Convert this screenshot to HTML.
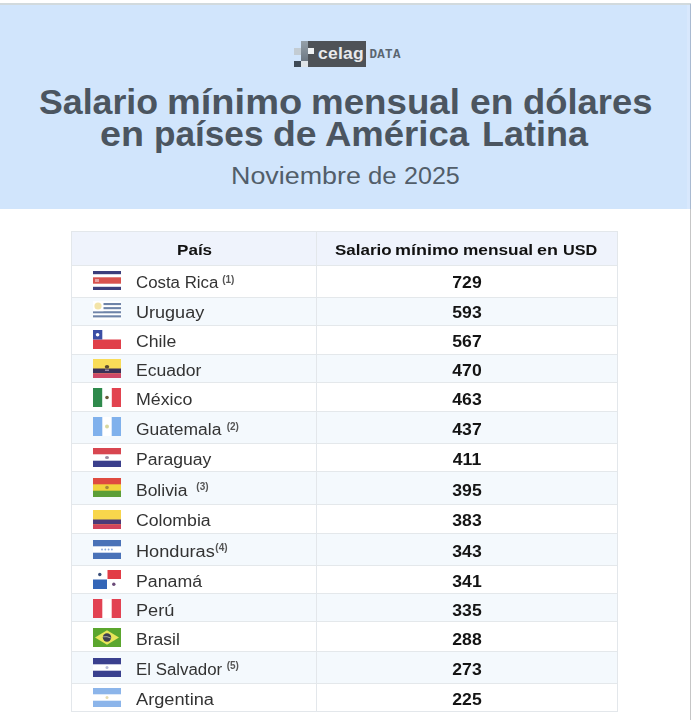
<!DOCTYPE html>
<html><head><meta charset="utf-8">
<style>
*{margin:0;padding:0;box-sizing:border-box}
html,body{width:691px;height:720px;overflow:hidden;background:#fff;font-family:"Liberation Sans",sans-serif;position:relative}
#topline{position:absolute;left:0;top:3px;width:691px;height:2px;background:#d2dadd}
#hdr{position:absolute;left:0;top:5px;width:690px;height:204px;background:#d1e5fc}
#hdr2{position:absolute;left:687px;top:5px;width:3px;height:204px;background:#d8e8fd}
#rline{position:absolute;left:690px;top:4px;width:1px;height:716px;background:#c6c6c6}
#rline2{position:absolute;left:690px;top:4px;width:1px;height:205px;background:#a9bad1}
.t1{position:absolute;white-space:nowrap;font-weight:bold;color:#4b5560;font-size:35px;line-height:1;transform-origin:0 0}
.sub{position:absolute;white-space:nowrap;color:#525e6a;font-size:23px;line-height:1;transform-origin:0 0;transform:scaleX(1.14)}
.hrow{position:absolute;left:71px;width:547px;background:#eff3fc;border-top:1px solid #e3e7eb}
.htxt{position:absolute;white-space:nowrap;font-weight:bold;font-size:15px;color:#111;line-height:1;transform-origin:0 0}
.row{position:absolute;left:71px;width:547px;border-top:1px solid #e4e8eb;background:#fff}
.row.tint{background:#f4f9fd}
.bline{position:absolute;left:71px;width:547px;height:1px;background:#e3e7eb}
.vline{position:absolute;width:1px;background:#e3e7eb}
.name{position:absolute;left:136px;white-space:nowrap;font-size:16px;color:#333;line-height:1;transform-origin:0 0;transform:scaleX(1.12)}
.sup{position:absolute;font-size:10px;line-height:1;color:#555;font-weight:bold;white-space:nowrap}
.num{position:absolute;left:316px;width:302px;text-align:center;font-weight:bold;font-size:16px;color:#141414;line-height:1;transform:scaleX(1.1)}
.flag{position:absolute;left:93px}
.logo{position:absolute}
#wrap{position:absolute;left:0;top:0;width:691px;height:720px;overflow:hidden;filter:blur(0.3px)}
</style></head><body><div id="wrap">
<div id="topline"></div>
<div id="hdr"></div>
<div id="hdr2"></div><div id="rline"></div><div id="rline2"></div>
<div class="logo" style="left:308px;top:41px;width:58px;height:25.5px;background:#4e5257"></div>
<div class="logo" style="left:301px;top:41px;width:7px;height:19.5px;background:linear-gradient(#95a0a9,#6d7883)"></div>
<div class="logo" style="left:294px;top:47.5px;width:7px;height:7px;background:#c3ccd3"></div>
<div class="logo" style="left:308px;top:47.5px;width:6px;height:6.5px;background:#eef1f3"></div>
<div class="logo" style="left:294px;top:60.5px;width:7px;height:6px;background:#3e4a56"></div>
<div class="logo" style="left:301px;top:60.5px;width:7px;height:6px;background:#dfe4e8"></div>
<span class="logo" id="celag" style="left:318px;top:44.6px;font-size:16.5px;font-weight:bold;color:#e8eaec;line-height:1;transform-origin:0 0;transform:scaleX(1.06);letter-spacing:0.2px">celag</span>
<span class="logo" id="data" style="left:369.5px;top:49.2px;font-family:'Liberation Mono',monospace;font-size:12.5px;font-weight:bold;color:#5a6570;line-height:1;letter-spacing:0.3px;transform-origin:0 0;transform:scaleX(1.0)">DATA</span>
<div class="hrow" style="top:231px;height:34px"></div>
<div class="row" style="top:265px;height:32px"></div><svg class="flag" style="top:270.60px" width="28" height="19" viewBox="0 0 28 19"><rect width="28" height="19" fill="#fff"/><rect width="28" height="3.2" fill="#3c3e7c"/><rect y="15.8" width="28" height="3.2" fill="#3c3e7c"/><rect y="6.3" width="28" height="6.4" fill="#d8524e"/><rect x="2" y="8" width="4" height="3" fill="#e8a0a0"/></svg><span class="name" style="top:274.95px;transform:scaleX(1.0517)">Costa Rica</span><span class="sup" style="left:222.2px;top:274.8px">(1)</span><span class="num" style="top:274.95px">729</span>
<div class="row tint" style="top:297px;height:28px"></div><svg class="flag" style="top:301.40px" width="28" height="19" viewBox="0 0 28 19"><rect width="28" height="19" fill="#fff"/><rect y="2" width="28" height="2.1" fill="#6f84a8"/><rect y="6.1" width="28" height="2.1" fill="#6f84a8"/><rect y="10.2" width="28" height="2.1" fill="#6f84a8"/><rect y="14.3" width="28" height="2.1" fill="#6f84a8"/><rect width="10.5" height="10.2" fill="#fff"/><circle cx="5" cy="5" r="3.6" fill="#f3e4a8"/></svg><span class="name" style="top:305.25px;transform:scaleX(1.1278)">Uruguay</span><span class="num" style="top:305.25px">593</span>
<div class="row" style="top:325px;height:29px"></div><svg class="flag" style="top:330.00px" width="28" height="19" viewBox="0 0 28 19"><rect width="28" height="19" fill="#fff"/><rect y="9.5" width="28" height="9.5" fill="#e0404a"/><rect width="9.3" height="9.5" fill="#3b4ea4"/><circle cx="4.6" cy="4.7" r="1.8" fill="#fff"/></svg><span class="name" style="top:334.00px;transform:scaleX(1.1032)">Chile</span><span class="num" style="top:334.00px">567</span>
<div class="row tint" style="top:354px;height:28px"></div><svg class="flag" style="top:358.75px" width="28" height="19" viewBox="0 0 28 19"><rect width="28" height="19" fill="#f9dc58"/><rect y="9.5" width="28" height="4.75" fill="#3a3058"/><rect y="14.25" width="28" height="4.75" fill="#cf4868"/><ellipse cx="14" cy="7.8" rx="2.2" ry="1.8" fill="#5a4a30"/><rect x="12" y="10.5" width="4" height="1.5" fill="#9a8aa8"/></svg><span class="name" style="top:362.75px;transform:scaleX(1.0965)">Ecuador</span><span class="num" style="top:362.75px">470</span>
<div class="row" style="top:382px;height:29px"></div><svg class="flag" style="top:387.65px" width="28" height="19" viewBox="0 0 28 19"><rect width="28" height="19" fill="#fff"/><rect width="9.2" height="19" fill="#2f8a4c"/><rect x="18.8" width="9.2" height="19" fill="#e2434f"/><circle cx="14" cy="9.5" r="1.8" fill="#6a5a3a"/></svg><span class="name" style="top:391.80px;transform:scaleX(1.1122)">México</span><span class="num" style="top:391.80px">463</span>
<div class="row tint" style="top:411px;height:32px"></div><svg class="flag" style="top:417.15px" width="28" height="19" viewBox="0 0 28 19"><rect width="28" height="19" fill="#fff"/><rect width="9.3" height="19" fill="#80b1ec"/><rect x="18.7" width="9.3" height="19" fill="#80b1ec"/><circle cx="14" cy="9.5" r="2" fill="#d8d8a0"/></svg><span class="name" style="top:422.05px;transform:scaleX(1.0909)">Guatemala</span><span class="sup" style="left:226.7px;top:421.6px">(2)</span><span class="num" style="top:422.05px">437</span>
<div class="row" style="top:443px;height:28px"></div><svg class="flag" style="top:448.40px" width="28" height="19" viewBox="0 0 28 19"><rect width="28" height="19" fill="#fff"/><rect width="28" height="6.3" fill="#d84650"/><rect y="12.7" width="28" height="6.3" fill="#3b3f8c"/><ellipse cx="14" cy="9.5" rx="2" ry="1.5" fill="#9a8aa0"/></svg><span class="name" style="top:452.05px;transform:scaleX(1.0998)">Paraguay</span><span class="num" style="top:452.05px">411</span>
<div class="row tint" style="top:471px;height:33px"></div><svg class="flag" style="top:478.35px" width="28" height="19" viewBox="0 0 28 19"><rect width="28" height="19" fill="#f1d43c"/><rect width="28" height="6.3" fill="#df4b40"/><rect y="12.7" width="28" height="6.3" fill="#5c9e38"/><circle cx="14" cy="9.5" r="1.8" fill="#a88a3a"/></svg><span class="name" style="top:483.05px;transform:scaleX(1.0920)">Bolivia</span><span class="sup" style="left:196.3px;top:482.1px">(3)</span><span class="num" style="top:483.05px">395</span>
<div class="row" style="top:504px;height:29px"></div><svg class="flag" style="top:509.65px" width="28" height="19" viewBox="0 0 28 19"><rect width="28" height="19" fill="#f8d64c"/><rect y="9.5" width="28" height="4.75" fill="#4b3a78"/><rect y="14.25" width="28" height="4.75" fill="#d2445c"/></svg><span class="name" style="top:513.00px;transform:scaleX(1.1054)">Colombia</span><span class="num" style="top:513.00px">383</span>
<div class="row tint" style="top:533px;height:32px"></div><svg class="flag" style="top:539.65px" width="28" height="19" viewBox="0 0 28 19"><rect width="28" height="19" fill="#fff"/><rect width="28" height="6.3" fill="#4a72b8"/><rect y="12.7" width="28" height="6.3" fill="#4a72b8"/><circle cx="9" cy="9.5" r="0.9" fill="#8aa8dc"/><circle cx="12.3" cy="9.5" r="0.9" fill="#8aa8dc"/><circle cx="15.6" cy="9.5" r="0.9" fill="#8aa8dc"/><circle cx="18.9" cy="9.5" r="0.9" fill="#8aa8dc"/></svg><span class="name" style="top:543.75px;transform:scaleX(1.1346)">Honduras</span><span class="sup" style="left:215.3px;top:542.8px">(4)</span><span class="num" style="top:543.75px">343</span>
<div class="row" style="top:565px;height:28px"></div><svg class="flag" style="top:569.65px" width="28" height="19" viewBox="0 0 28 19"><rect width="28" height="19" fill="#fff"/><rect x="14.5" width="13.5" height="9" fill="#e23c46"/><rect y="9.5" width="14" height="9.5" fill="#3466b8"/><circle cx="6.8" cy="4.5" r="1.7" fill="#3a4e78"/><circle cx="20.8" cy="14.2" r="1.7" fill="#6a4a78"/></svg><span class="name" style="top:574.25px;transform:scaleX(1.1077)">Panamá</span><span class="num" style="top:574.25px">341</span>
<div class="row tint" style="top:593px;height:28px"></div><svg class="flag" style="top:598.85px" width="28" height="19" viewBox="0 0 28 19"><rect width="28" height="19" fill="#fff"/><rect width="9.3" height="19" fill="#e24252"/><rect x="18.7" width="9.3" height="19" fill="#e24252"/></svg><span class="name" style="top:603.00px;transform:scaleX(1.1357)">Perú</span><span class="num" style="top:603.00px">335</span>
<div class="row" style="top:621px;height:30px"></div><svg class="flag" style="top:627.85px" width="28" height="19" viewBox="0 0 28 19"><rect width="28" height="19" fill="#5ba62e"/><polygon points="14,2.2 26,9.5 14,16.8 2,9.5" fill="#e8e65a"/><circle cx="14" cy="9.5" r="4.2" fill="#3e3e50"/><path d="M10.2 8.8 Q14 8 17.8 10" stroke="#c8c8b0" stroke-width="0.8" fill="none"/></svg><span class="name" style="top:631.75px;transform:scaleX(1.0965)">Brasil</span><span class="num" style="top:631.75px">288</span>
<div class="row tint" style="top:651px;height:32px"></div><svg class="flag" style="top:657.60px" width="28" height="19" viewBox="0 0 28 19"><rect width="28" height="19" fill="#fff"/><rect width="28" height="6.3" fill="#3a408e"/><rect y="12.7" width="28" height="6.3" fill="#3a408e"/><circle cx="14" cy="9.5" r="1.5" fill="#b8bcd8"/></svg><span class="name" style="top:662.05px;transform:scaleX(1.0539)">El Salvador</span><span class="sup" style="left:226.7px;top:660.8px">(5)</span><span class="num" style="top:662.05px">273</span>
<div class="row" style="top:683px;height:28px"></div><svg class="flag" style="top:688.40px" width="28" height="19" viewBox="0 0 28 19"><rect width="28" height="19" fill="#fff"/><rect width="28" height="6.3" fill="#8cb5ea"/><rect y="12.7" width="28" height="6.3" fill="#8cb5ea"/><circle cx="14" cy="9.5" r="1.5" fill="#e6dcb0"/></svg><span class="name" style="top:692.05px;transform:scaleX(1.1379)">Argentina</span><span class="num" style="top:692.05px">225</span>
<div class="bline" style="top:711px"></div>
<div class="vline" style="left:71px;top:231px;height:481px"></div>
<div class="vline" style="left:316px;top:231px;height:481px"></div>
<div class="vline" style="left:617px;top:231px;height:481px"></div>
<span class="t1" style="left:38.98px;top:84.3px;transform:scaleX(1.0202)">Salario</span>
<span class="t1" style="left:166.83px;top:84.3px;transform:scaleX(1.0860)">mínimo</span>
<span class="t1" style="left:310.90px;top:84.3px;transform:scaleX(1.0493)">mensual</span>
<span class="t1" style="left:469.74px;top:84.3px;transform:scaleX(1.0632)">en</span>
<span class="t1" style="left:522.56px;top:84.3px;transform:scaleX(1.0393)">dólares</span>
<span class="t1" style="left:100.32px;top:116px;transform:scaleX(1.0763)">en</span>
<span class="t1" style="left:154.09px;top:116px;transform:scaleX(1.0047)">países</span>
<span class="t1" style="left:273.23px;top:116px;transform:scaleX(1.0667)">de</span>
<span class="t1" style="left:325.36px;top:116px;transform:scaleX(1.0428)">América</span>
<span class="t1" style="left:481.54px;top:116px;transform:scaleX(1.0287)">Latina</span>
<span class="sub" style="left:230.86px;top:165px;transform:scaleX(1.1676)">Noviembre</span>
<span class="sub" style="left:367.88px;top:165px;transform:scaleX(1.1167)">de</span>
<span class="sub" style="left:404.41px;top:165px;transform:scaleX(1.0898)">2025</span>
<span class="htxt" style="left:334.77px;top:241.8px;transform:scaleX(1.1333)">Salario</span>
<span class="htxt" style="left:395.20px;top:241.8px;transform:scaleX(1.1962)">mínimo</span>
<span class="htxt" style="left:462.85px;top:241.8px;transform:scaleX(1.1508)">mensual</span>
<span class="htxt" style="left:537.31px;top:241.8px;transform:scaleX(1.1938)">en</span>
<span class="htxt" style="left:563.42px;top:241.8px;transform:scaleX(1.0833)">USD</span>
<span class="htxt" style="left:176.56px;top:241.8px;transform:scaleX(1.1379)">País</span>
</div></body></html>
